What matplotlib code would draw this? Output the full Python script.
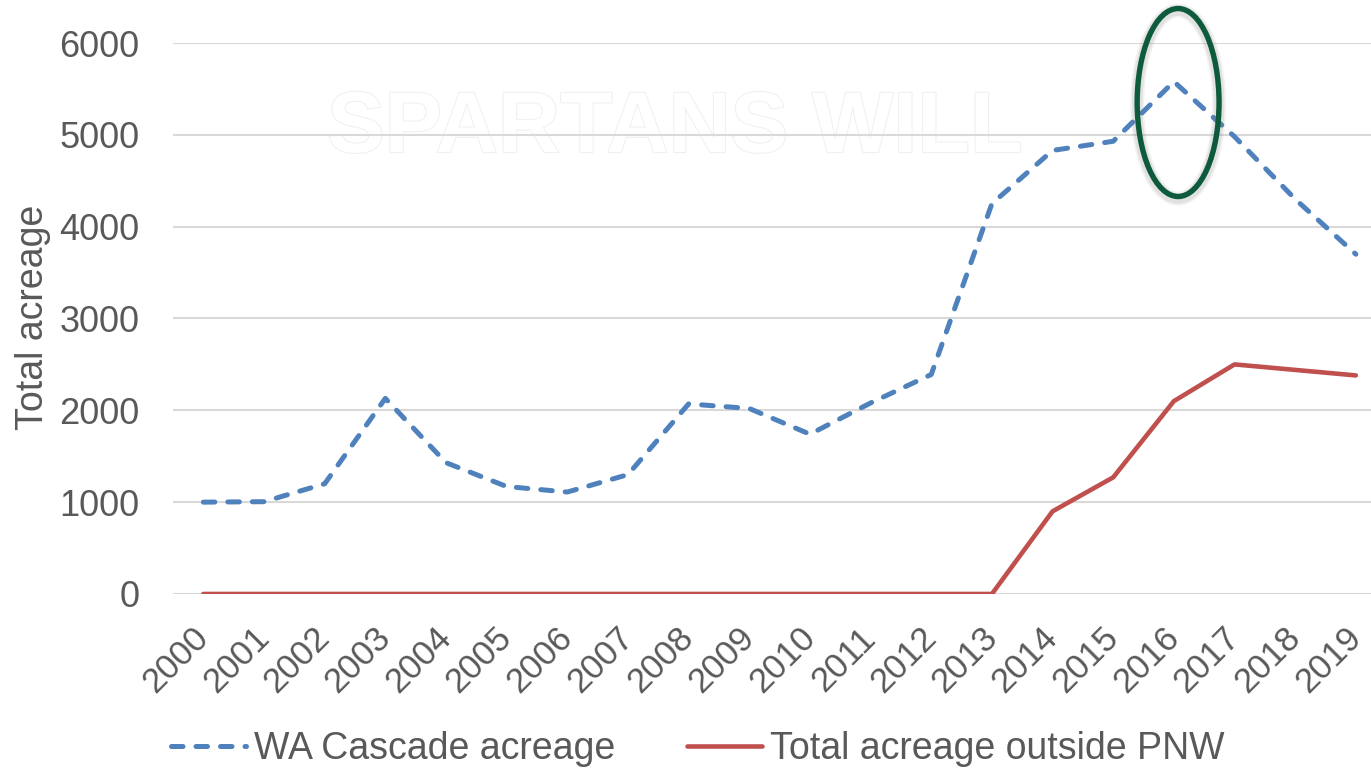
import numpy as np
import matplotlib
matplotlib.use("Agg")
import matplotlib.pyplot as plt
from matplotlib.patches import Ellipse
import matplotlib.patheffects as pe

plt.rcParams['font.family'] = ['Liberation Sans', 'DejaVu Sans']

years = [str(y) for y in range(2000, 2020)]
wa_cascade = [1000, 1005, 1200, 2130, 1430, 1170, 1110, 1300, 2070, 2020,
              1740, 2080, 2390, 4250, 4830, 4930, 5580, 4980, 4300, 3700]
outside_pnw = [0, 0, 0, 0, 0, 0, 0, 0, 0, 0,
               0, 0, 0, 0, 900, 1270, 2100, 2500, 2440, 2380]

grey = '#595959'
blue = '#4F81BD'
red = '#C0504D'

fig = plt.figure(figsize=(13.71, 7.72), dpi=100)
ax = fig.add_axes([0.1262, 0.2306, 0.8738, 0.7137])

x = np.arange(len(years))

# faint watermark in the background
ax.text(0.419, 0.842, 'SPARTANS WILL', transform=ax.transAxes, ha='center', va='center',
        fontsize=62, fontweight='bold', color='white', zorder=0,
        path_effects=[pe.withStroke(linewidth=1.5, foreground='#f0f0f0')])

ax.plot(x, wa_cascade, color=blue, lw=3.6, dashes=(2.3, 2.6),
        dash_capstyle='round', label='WA Cascade acreage', zorder=3)
ax.plot(x, outside_pnw, color=red, lw=3.3, solid_capstyle='round',
        label='Total acreage outside PNW', zorder=3)

# highlight the 2016 peak (soft grey glow under a green ring)
for lw, a in [(10, 0.10), (7.5, 0.15)]:
    ax.add_patch(Ellipse((16.07, 5330), width=1.35, height=2047, fill=False,
                         edgecolor='#808080', alpha=a, lw=lw, clip_on=False, zorder=4))
ax.add_patch(Ellipse((16.07, 5352), width=1.35, height=2047, fill=False,
                     edgecolor='#0E5A3C', lw=3.9, clip_on=False, zorder=5))

ax.set_xlim(-0.5, 19.25)
ax.set_ylim(0, 6000)
ax.set_yticks(range(0, 7000, 1000))
ax.set_xticks(x)
ax.set_xticklabels(years, rotation=45, ha='right', va='center', rotation_mode='anchor')
ax.tick_params(axis='both', length=0, labelcolor=grey)
ax.tick_params(axis='y', labelsize=26, pad=24)
ax.tick_params(axis='x', labelsize=25, pad=28)
ax.grid(axis='y', color='#D9D9D9', lw=1.5)
ax.set_axisbelow(True)
for s in ax.spines.values():
    s.set_visible(False)

ax.set_ylabel('Total acreage', fontsize=27, color=grey, va='center')
ax.yaxis.set_label_coords(-0.1169, 0.502)

fig.legend(loc='center', bbox_to_anchor=(0.5088, 1 - 749 / 772), ncol=2, frameon=False,
           fontsize=27, labelcolor=grey, handlelength=2.0, handletextpad=0.22,
           columnspacing=1.9)

fig.savefig('out.png', dpi=100)
